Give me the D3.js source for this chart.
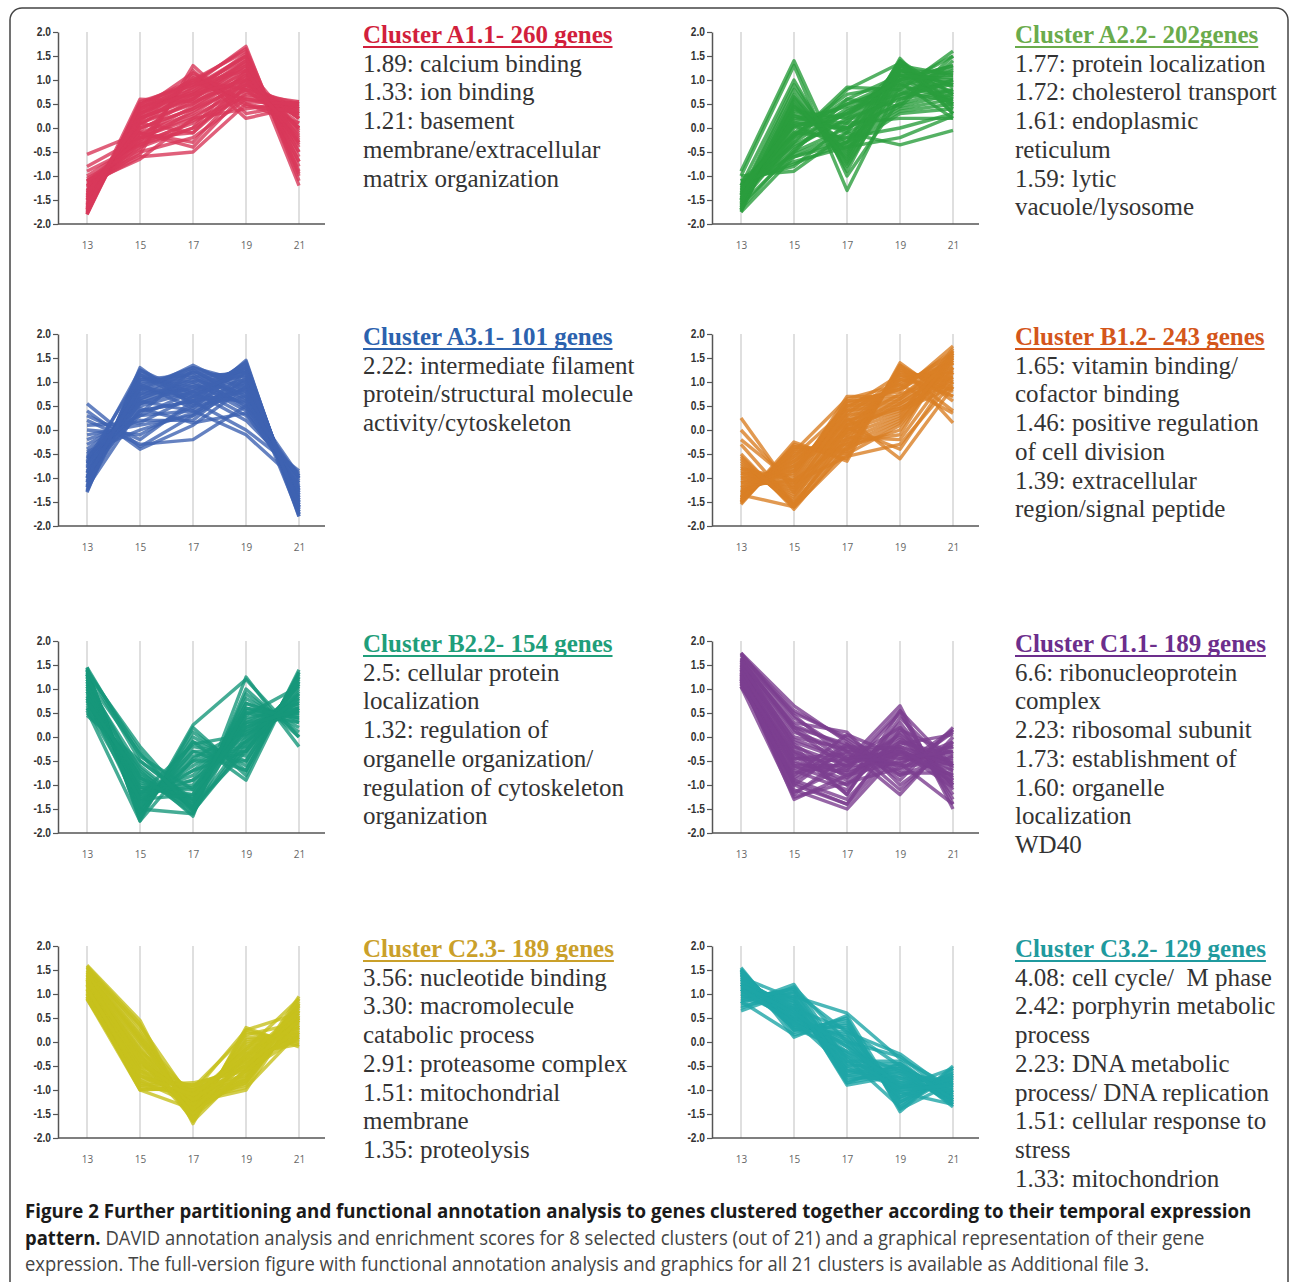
<!DOCTYPE html>
<html><head><meta charset="utf-8">
<script src="https://cdn.jsdelivr.net/npm/d3@7"></script>
<style>body{margin:0;background:#fff} svg{display:block}</style>
</head><body><svg id="c" width="1290" height="1282"></svg>
<script>
// ---------------- data ----------------
const days = [13, 15, 17, 19, 21];
const yTickValues = [2.0, 1.5, 1.0, 0.5, 0.0, -0.5, -1.0, -1.5, -2.0];

const titleA11 = "Cluster A1.1- 260 genes";
const titleA22 = "Cluster A2.2- 202genes";
const titleA31 = "Cluster A3.1- 101 genes";
const titleB12 = "Cluster B1.2- 243 genes";
const titleB22 = "Cluster B2.2- 154 genes";
const titleC11 = "Cluster C1.1- 189 genes";
const titleC23 = "Cluster C2.3- 189 genes";
const titleC32 = "Cluster C3.2- 129 genes";

const notesA11 = ["1.89: calcium binding", "1.33: ion binding", "1.21: basement", "membrane/extracellular", "matrix organization"];
const notesA22 = ["1.77: protein localization", "1.72: cholesterol transport", "1.61: endoplasmic", "reticulum", "1.59: lytic", "vacuole/lysosome"];
const notesA31 = ["2.22: intermediate filament", "protein/structural molecule", "activity/cytoskeleton"];
const notesB12 = ["1.65: vitamin binding/", "cofactor binding", "1.46: positive regulation", "of cell division", "1.39: extracellular", "region/signal peptide"];
const notesB22 = ["2.5: cellular protein", "localization", "1.32: regulation of", "organelle organization/", "regulation of cytoskeleton", "organization"];
const notesC11 = ["6.6: ribonucleoprotein", "complex", "2.23: ribosomal subunit", "1.73: establishment of", "1.60: organelle", "localization", "WD40"];
const notesC23 = ["3.56: nucleotide binding", "3.30: macromolecule", "catabolic process", "2.91: proteasome complex", "1.51: mitochondrial", "membrane", "1.35: proteolysis"];
const notesC32 = ["4.08: cell cycle/  M phase", "2.42: porphyrin metabolic", "process", "2.23: DNA metabolic", "process/ DNA replication", "1.51: cellular response to", "stress", "1.33: mitochondrion"];

// expression profiles (values at days 13,15,17,19,21)
const profilesA11 = [
 [-1.8,0.55,0.9,1.7,-1.1],[-1.75,0.5,1.0,1.6,-1.0],[-1.7,0.4,0.8,1.5,-0.8],[-1.65,0.3,0.7,1.4,-0.6],
 [-1.6,0.2,0.6,1.3,-0.4],[-1.55,0.1,0.5,1.2,-0.2],[-1.5,0.0,0.4,1.1,0.0],[-1.45,-0.1,0.3,1.0,0.2],
 [-1.4,-0.2,0.2,0.9,0.4],[-1.35,-0.3,0.1,0.8,0.5],[-1.3,-0.4,0.0,0.7,0.55],[-1.25,-0.5,-0.2,0.6,0.5],
 [-1.2,-0.6,-0.5,0.5,0.3],[-1.15,-0.65,0.2,0.4,0.55],[-1.1,-0.55,1.3,0.3,0.5],[-1.05,-0.45,1.2,0.2,0.45],
 [-1.0,-0.3,1.1,0.5,0.1],[-0.55,-0.1,-0.3,0.9,0.3],[-0.8,-0.2,-0.1,1.0,0.0],[-0.9,-0.35,0.0,1.2,-0.3],
 [-1.7,0.6,0.55,1.0,0.2],[-1.8,0.45,0.7,1.3,-0.5],[-1.6,0.25,0.95,0.6,0.4],[-1.5,0.15,1.0,0.8,0.0],
 [-1.4,0.05,0.85,1.5,-0.9],[-1.3,-0.05,0.6,1.4,-0.7],[-1.2,-0.15,0.45,1.1,-0.3],[-1.1,-0.25,0.35,0.95,0.2],
 [-1.75,0.35,0.75,1.55,-1.2],[-1.65,0.2,0.65,1.25,-0.05],[-1.45,0.1,-0.1,0.85,0.35],[-1.35,-0.1,-0.4,0.75,0.25],
 [-1.78,0.5,0.95,1.65,-0.95],[-1.72,0.42,0.85,1.45,-0.7],[-1.62,0.32,0.75,1.35,-0.5],[-1.52,0.22,0.62,1.15,-0.25],
 [-1.42,0.12,0.52,1.05,-0.1],[-1.32,0.0,0.4,0.9,0.1],[-1.22,-0.2,0.25,0.8,0.3],[-1.12,-0.35,0.15,0.65,0.45],
 [-1.58,0.38,1.15,0.55,0.5],[-1.48,0.28,1.05,0.45,0.35],[-1.68,0.48,0.9,1.2,-0.35],[-1.38,0.18,0.7,1.0,-0.15]
];
const profilesA22 = [
 [-1.75,0.5,-0.5,1.45,0.3],[-1.7,0.4,-0.3,1.4,0.5],[-1.65,0.3,-0.1,1.3,0.7],[-1.6,0.2,0.1,1.2,0.9],
 [-1.55,0.1,0.3,1.1,1.1],[-1.5,0.0,0.5,1.0,1.3],[-1.45,-0.1,0.7,0.9,1.5],[-1.4,-0.2,0.85,0.8,1.6],
 [-1.35,-0.3,0.4,0.7,1.2],[-1.3,-0.4,0.2,0.6,1.0],[-1.25,-0.5,0.0,0.5,0.8],[-1.2,-0.6,-0.2,0.4,0.6],
 [-1.15,-0.7,-0.4,0.3,0.4],[-1.1,-0.8,0.1,0.2,0.2],[-1.0,-0.9,-0.1,-0.35,-0.05],[-0.9,1.4,-1.0,0.6,0.8],
 [-1.0,1.3,-1.3,0.9,0.6],[-1.2,1.0,-0.9,1.2,0.9],[-1.4,0.8,-0.7,1.3,1.1],[-1.7,0.6,-0.6,1.4,0.7],
 [-1.5,0.7,-0.8,1.0,1.3],[-1.6,-0.5,0.6,1.1,0.5],[-1.45,-0.3,0.8,1.35,0.3],[-1.3,-0.1,-0.2,0.0,0.3],
 [-1.2,0.05,-0.4,-0.2,0.25],[-1.35,0.25,0.0,0.5,1.5],[-1.55,-0.2,0.3,0.8,0.9],[-1.65,0.35,0.2,1.25,0.4],
 [-1.75,-0.6,-0.3,0.7,1.0],[-1.25,0.15,0.45,0.95,0.2],[-1.1,-0.15,0.6,0.45,1.4],[-1.5,0.45,-0.45,1.15,0.65],
 [-1.72,0.45,-0.35,1.38,0.45],[-1.62,0.25,-0.05,1.22,0.75],[-1.52,0.05,0.25,1.05,1.05],[-1.42,-0.15,0.5,0.85,1.25],
 [-1.32,-0.35,0.15,0.65,0.95],[-1.22,-0.55,-0.1,0.45,0.7],[-1.12,-0.75,-0.3,0.35,0.5],[-1.58,0.65,-0.55,1.3,0.85],
 [-1.38,0.9,-0.75,1.1,1.0],[-1.48,0.55,-0.65,1.2,1.15],[-1.68,-0.45,0.35,1.0,0.6],[-1.28,0.1,0.0,0.75,0.55]
];
const profilesA31 = [
 [-1.3,1.3,0.5,1.45,-1.8],[-1.2,1.2,0.7,1.4,-1.7],[-1.1,1.1,0.9,1.3,-1.6],[-1.0,1.0,1.1,1.2,-1.5],
 [-0.9,0.9,1.3,1.0,-1.4],[-0.8,0.8,1.35,0.8,-1.3],[-0.7,0.7,1.2,0.6,-1.2],[-0.6,0.6,1.0,0.4,-1.0],
 [-0.5,0.5,0.8,0.2,-0.9],[-0.4,0.4,0.6,0.0,-0.85],[-0.3,0.3,0.4,-0.1,-1.1],[-0.2,0.2,0.2,1.1,-1.7],
 [-0.1,0.1,0.3,0.9,-1.6],[0.0,-0.1,0.5,0.7,-1.3],[0.2,-0.3,-0.2,0.5,-1.0],[0.4,-0.4,0.1,0.9,-1.5],
 [0.55,-0.35,0.3,1.2,-1.8],[0.3,-0.2,0.6,1.0,-1.4],[-1.25,0.95,0.45,1.35,-1.75],[-1.15,0.85,0.65,1.25,-1.65],
 [-1.05,0.75,0.85,1.15,-1.55],[-0.95,0.65,1.05,0.75,-1.25],[-0.85,0.55,0.95,0.55,-1.05],[-0.75,1.25,0.75,1.05,-1.45],
 [-0.65,1.15,0.55,0.85,-1.35],[-0.55,0.35,1.25,0.65,-0.95],[-0.45,0.0,0.35,0.95,-1.75],[-1.2,0.45,0.15,0.35,-1.15],
 [-1.0,1.05,1.15,0.45,-1.25],[0.1,0.15,0.7,1.3,-1.6],
 [-1.28,1.25,0.6,1.42,-1.75],[-1.18,1.15,0.8,1.35,-1.65],[-1.08,1.05,1.0,1.25,-1.55],[-0.98,0.95,1.2,1.1,-1.45],
 [-0.88,0.85,1.3,0.9,-1.35],[-0.78,0.75,1.25,0.7,-1.25],[-0.68,0.65,1.1,0.5,-1.1],[-0.58,0.55,0.9,0.3,-0.95],
 [-1.1,0.6,0.4,1.0,-1.5],[-0.9,0.4,0.6,0.8,-1.2],[-0.7,0.3,0.8,1.2,-1.6],[-1.0,0.9,0.7,0.6,-1.0]
];
const profilesB12 = [
 [-1.55,-0.3,-0.6,1.4,0.6],[-1.5,-0.4,-0.4,1.3,0.8],[-1.45,-0.5,-0.2,1.2,1.0],[-1.4,-0.6,0.0,1.1,1.2],
 [-1.35,-0.7,0.2,1.0,1.4],[-1.3,-0.8,0.4,0.9,1.6],[-1.25,-0.9,0.6,0.8,1.75],[-1.2,-1.0,0.7,0.7,1.5],
 [-1.1,-1.1,0.5,0.6,1.3],[-1.0,-1.2,0.3,0.5,1.1],[-0.9,-1.3,0.1,0.4,0.9],[-0.8,-1.4,-0.1,0.3,1.7],
 [-0.7,-1.5,-0.3,0.2,1.5],[-0.6,-1.6,-0.5,0.1,1.4],[-0.5,-1.65,-0.35,0.0,1.6],[-0.3,-1.55,-0.15,-0.2,1.3],
 [0.25,-1.3,0.05,-0.4,1.2],[0.0,-1.2,0.25,-0.6,0.9],[-0.2,-1.1,-0.55,-0.3,1.0],[-1.5,-0.25,-0.65,1.35,0.15],
 [-1.45,-0.35,-0.45,1.25,0.4],[-1.4,-0.45,0.65,0.95,0.35],[-1.3,-0.55,0.45,1.15,0.7],[-1.2,-0.65,0.15,0.75,1.1],
 [-1.1,-0.75,-0.05,0.55,1.25],[-1.0,-0.85,0.35,1.05,0.85],[-0.9,-0.95,0.55,0.85,1.45],[-0.8,-1.05,-0.25,-0.1,1.65],
 [-0.75,-1.45,0.1,0.45,1.05],[-1.35,-1.6,0.0,0.65,1.55],
 [-1.52,-0.35,-0.5,1.35,0.7],[-1.48,-0.45,-0.3,1.25,0.9],[-1.42,-0.55,-0.1,1.15,1.1],[-1.38,-0.65,0.1,1.05,1.3],
 [-1.32,-0.75,0.3,0.95,1.5],[-1.28,-0.85,0.5,0.85,1.65],[-1.15,-1.05,0.6,0.65,1.4],[-1.05,-1.15,0.4,0.55,1.2],
 [-0.95,-1.25,0.2,0.45,1.0],[-0.85,-1.35,0.0,0.35,1.6],[-0.65,-1.55,-0.2,0.25,1.45],[-0.55,-1.6,-0.4,0.15,1.55]
];
const profilesB22 = [
 [1.45,-1.75,0.2,-0.8,1.4],[1.4,-1.6,0.0,-0.6,1.3],[1.35,-1.5,-0.2,-0.4,1.2],[1.3,-1.4,-0.4,-0.2,1.1],
 [1.2,-1.3,-0.6,0.0,1.0],[1.1,-1.2,-0.8,0.2,0.8],[1.0,-1.1,-1.0,0.4,0.6],[0.9,-1.0,-1.2,0.6,0.4],
 [0.8,-0.9,-1.4,0.8,0.2],[0.7,-0.8,-1.6,1.0,0.0],[0.6,-0.7,-1.65,1.25,-0.2],[0.5,-0.6,-1.5,0.9,0.1],
 [0.45,-0.5,-1.3,0.5,0.3],[1.45,-0.4,-1.1,0.3,0.5],[1.4,-0.3,-1.55,-0.1,0.9],[1.35,-0.2,-1.45,-0.3,1.1],
 [1.3,-1.7,0.25,1.2,0.0],[1.25,-1.65,-0.1,-0.9,1.35],[1.15,-1.55,-0.3,-0.7,1.25],[1.05,-1.45,-0.5,-0.5,1.15],
 [0.95,-1.35,-0.7,-0.3,0.95],[0.85,-1.25,-0.9,-0.1,0.75],[0.75,-1.15,-1.05,0.1,0.55],[0.65,-1.05,-1.25,0.35,0.7],
 [1.2,-0.85,-1.35,0.55,0.45],[1.0,-0.75,-1.45,0.7,0.35],[1.1,-0.65,-1.55,-0.2,0.85],[0.55,-1.75,-0.45,0.15,0.65],
 [1.3,-1.2,-0.15,0.05,0.6],[0.8,-1.5,-1.6,0.45,1.05],
 [1.42,-1.68,0.1,-0.7,1.35],[1.38,-1.55,-0.1,-0.5,1.25],[1.32,-1.45,-0.3,-0.3,1.15],[1.25,-1.35,-0.5,-0.1,1.05],
 [1.15,-1.25,-0.7,0.1,0.9],[1.05,-1.15,-0.9,0.3,0.7],[0.95,-1.05,-1.1,0.5,0.5],[0.85,-0.95,-1.3,0.7,0.3],
 [0.75,-0.85,-1.5,0.6,0.4],[1.4,-0.5,-1.35,0.2,0.6],[1.2,-0.35,-1.5,0.0,0.8],[0.6,-1.3,-1.2,0.25,0.55]
];
const profilesC11 = [
 [1.75,0.65,-0.1,-0.9,0.2],[1.7,0.5,0.0,-0.7,0.1],[1.65,0.3,0.1,-1.0,-0.2],[1.6,0.1,-0.3,-1.2,0.0],
 [1.55,-0.1,-0.5,0.65,-1.5],[1.5,-0.3,-0.7,0.5,-1.3],[1.45,-0.5,-0.9,0.3,-1.1],[1.4,-0.7,-1.1,0.1,-0.9],
 [1.35,-0.9,-1.3,-0.1,-0.7],[1.3,-1.1,-1.5,-0.3,-0.5],[1.25,-1.3,-0.8,-0.5,-0.3],[1.2,-1.2,-0.4,-0.6,0.15],
 [1.15,-1.0,-0.2,-0.8,-0.4],[1.1,-0.8,0.05,-0.4,-0.8],[1.05,-0.6,-0.6,0.0,-1.0],[1.75,0.4,-0.3,-0.2,-0.6],
 [1.6,0.2,-0.5,0.2,-1.2],[1.5,0.0,-0.25,-0.45,-0.2],[1.4,-0.2,-1.2,0.4,-0.65],[1.3,-0.4,-1.0,-0.15,0.05],
 [1.2,-0.55,-0.75,-0.35,-0.45],[1.1,-0.75,-0.55,-0.25,-0.95],[1.15,-0.95,-1.4,0.15,-0.35],[1.25,-0.85,-0.15,-0.75,-0.75],
 [1.35,-0.45,-0.35,-0.55,-1.4],[1.45,-0.15,-0.85,-0.05,-0.55],[1.55,0.15,-0.65,0.05,-0.85],[1.65,0.45,-0.45,-0.3,-1.05],
 [1.05,-1.25,-0.95,-0.65,-0.15],[1.2,-0.3,-1.2,0.55,-0.6],
 [1.72,0.55,-0.05,-0.8,0.15],[1.62,0.2,-0.15,-1.1,-0.1],[1.52,-0.2,-0.6,0.55,-1.4],[1.42,-0.6,-1.0,0.2,-1.0],
 [1.32,-1.0,-1.4,-0.2,-0.6],[1.22,-1.15,-0.6,-0.55,-0.1],[1.12,-0.9,-0.3,-0.6,-0.55],[1.48,-0.05,-0.45,-0.35,-0.7],
 [1.38,-0.35,-0.8,-0.1,-0.4],[1.28,-0.65,-0.7,-0.3,-0.8],[1.18,-0.45,-0.5,-0.45,-0.3],[1.58,0.25,-0.2,-0.25,-0.9]
];
const profilesC23 = [
 [1.6,0.45,-1.7,0.3,-0.1],[1.55,0.3,-1.6,0.2,0.0],[1.5,0.15,-1.5,0.1,0.1],[1.45,0.0,-1.4,0.0,0.2],
 [1.4,-0.15,-1.3,-0.1,0.3],[1.35,-0.3,-1.2,-0.2,0.4],[1.3,-0.45,-1.1,-0.3,0.5],[1.25,-0.6,-1.0,-0.4,0.6],
 [1.2,-0.75,-0.9,-0.5,0.7],[1.1,-0.9,-0.85,-0.6,0.8],[1.0,-1.0,-0.95,-0.7,0.95],[0.95,-0.95,-1.05,-0.8,0.85],
 [0.9,-0.85,-1.15,-0.9,0.75],[0.95,-0.7,-1.25,-1.0,0.65],[1.05,-0.55,-1.35,-0.85,0.55],[1.15,-0.4,-1.45,-0.75,0.45],
 [1.25,-0.25,-1.55,-0.65,0.35],[1.35,-0.1,-1.65,-0.55,0.25],[1.45,0.05,-1.45,-0.45,0.15],[1.55,0.2,-1.35,-0.35,0.05],
 [1.5,0.35,-1.25,-0.25,-0.05],[1.4,0.1,-1.15,-0.15,0.9],[1.3,-0.2,-1.05,0.25,0.6],[1.2,-0.5,-0.95,0.15,0.4],
 [1.1,-0.8,-1.3,-0.05,0.3],[1.0,-0.65,-1.2,-0.95,0.2],[0.9,-1.0,-1.4,-0.6,0.1],[1.3,-0.35,-1.6,-0.25,0.5],
 [1.58,0.38,-1.65,0.25,-0.05],[1.48,0.08,-1.45,0.05,0.15],[1.38,-0.22,-1.25,-0.15,0.35],[1.28,-0.52,-1.05,-0.35,0.55],
 [1.18,-0.82,-0.9,-0.55,0.75],[1.02,-0.98,-1.0,-0.75,0.9],[0.92,-0.9,-1.1,-0.85,0.8],[1.08,-0.6,-1.3,-0.8,0.5],
 [1.22,-0.3,-1.5,-0.6,0.3],[1.42,0.0,-1.4,-0.4,0.1],[1.32,-0.4,-1.2,-0.5,0.45],[1.12,-0.7,-1.1,-0.3,0.65]
];
const profilesC32 = [
 [1.55,0.2,0.5,-1.45,-0.5],[1.5,0.3,0.3,-1.3,-0.6],[1.45,0.4,0.1,-1.2,-0.7],[1.4,0.5,-0.1,-1.1,-0.8],
 [1.35,0.6,-0.3,-1.0,-0.9],[1.3,0.7,-0.5,-0.9,-1.0],[1.2,0.8,-0.7,-0.8,-1.1],[1.1,0.9,-0.9,-0.7,-1.2],
 [1.0,1.0,-0.8,-0.6,-1.3],[0.9,1.1,-0.6,-0.5,-1.35],[0.8,1.2,-0.4,-0.4,-1.25],[0.7,1.15,0.0,-0.3,-1.15],
 [0.65,1.05,0.2,-0.25,-1.05],[0.75,0.95,0.6,-0.35,-0.95],[0.85,0.15,0.4,-1.4,-0.85],[1.5,0.1,0.55,-1.25,-0.75],
 [1.45,0.25,0.35,-1.15,-0.65],[1.4,0.35,0.15,-0.95,-0.55],[1.3,0.45,-0.05,-0.85,-0.75],[1.25,0.55,-0.25,-0.75,-0.85],
 [1.15,0.65,-0.45,-0.65,-1.0],[1.05,0.75,-0.65,-0.55,-1.1],[0.95,0.85,-0.85,-0.45,-1.2],[1.0,0.5,0.05,-1.05,-1.3],
 [1.2,0.3,-0.2,-0.6,-0.9],[1.35,0.9,-0.35,-1.35,-0.7],[0.9,0.7,0.25,-0.5,-1.05],[1.1,0.45,-0.55,-0.95,-0.8],
 [1.52,0.25,0.45,-1.38,-0.55],[1.48,0.35,0.2,-1.25,-0.65],[1.42,0.45,0.0,-1.15,-0.75],[1.38,0.55,-0.2,-1.05,-0.85],
 [1.32,0.65,-0.4,-0.95,-0.95],[1.25,0.75,-0.6,-0.85,-1.05],[1.15,0.85,-0.75,-0.75,-1.15],[1.05,0.95,-0.85,-0.65,-1.25],
 [0.95,1.05,-0.7,-0.55,-1.3],[0.85,1.12,-0.5,-0.45,-1.2],[1.2,0.6,-0.1,-0.9,-1.0],[1.1,0.4,-0.3,-1.0,-0.9]
];

const captionBold1 = "Figure 2 Further partitioning and functional annotation analysis to genes clustered together according to their temporal expression";
const captionBold2 = "pattern.";
const captionText2 = " DAVID annotation analysis and enrichment scores for 8 selected clusters (out of 21) and a graphical representation of their gene";
const captionText3 = "expression. The full-version figure with functional annotation analysis and graphics for all 21 clusters is available as Additional file 3.";

// ---------------- layout / style ----------------
const colAxisX = [58, 712];
const colTextX = [363, 1015];
const rowTop = [32, 334, 641, 946];
const plotH = 192;

const panels = [
  {title: titleA11, notes: notesA11, data: profilesA11, line: "#d8385a", tcol: "#d21f3c", col: 0, row: 0},
  {title: titleA22, notes: notesA22, data: profilesA22, line: "#2b9d3d", tcol: "#6aab4c", col: 1, row: 0},
  {title: titleA31, notes: notesA31, data: profilesA31, line: "#3e63b2", tcol: "#2c62ae", col: 0, row: 1},
  {title: titleB12, notes: notesB12, data: profilesB12, line: "#d98026", tcol: "#d4561b", col: 1, row: 1},
  {title: titleB22, notes: notesB22, data: profilesB22, line: "#16977b", tcol: "#1f9e7a", col: 0, row: 2},
  {title: titleC11, notes: notesC11, data: profilesC11, line: "#7c3f90", tcol: "#6c2e8c", col: 1, row: 2},
  {title: titleC23, notes: notesC23, data: profilesC23, line: "#c7c11d", tcol: "#caa02a", col: 0, row: 3},
  {title: titleC32, notes: notesC32, data: profilesC32, line: "#1ea5a6", tcol: "#1f9a9e", col: 1, row: 3}
];

const svg = d3.select("#c");

// frame
svg.append("rect").attr("x", 10).attr("y", 8).attr("width", 1278).attr("height", 1300)
  .attr("rx", 12).attr("fill", "none").attr("stroke", "#444").attr("stroke-width", 1.5);

panels.forEach(p => {
  const ax = colAxisX[p.col];
  const top = rowTop[p.row];
  const bottom = top + plotH;
  const x = d3.scaleLinear().domain([13, 21]).range([ax + 29, ax + 241]);
  const y = d3.scaleLinear().domain([-2, 2]).range([bottom, top]);
  const g = svg.append("g");

  // vertical grid lines
  g.selectAll("line.grid").data(days).join("line").attr("class", "grid")
    .attr("x1", d => x(d)).attr("x2", d => x(d)).attr("y1", y(2)).attr("y2", y(-2))
    .attr("stroke", "#d4d4d4").attr("stroke-width", 1.5);

  // profiles
  const lineGen = d3.line().x((d, i) => x(days[i])).y(d => y(d));
  g.selectAll("path.prof").data(p.data).join("path").attr("class", "prof")
    .attr("d", lineGen).attr("fill", "none").attr("stroke", p.line)
    .attr("stroke-width", 3.4).attr("stroke-opacity", 0.8).attr("stroke-linejoin", "round");

  // y axis
  const yAxis = d3.axisLeft(y).tickValues(yTickValues).tickFormat(d => d.toFixed(1))
    .tickSize(5).tickSizeOuter(0).tickPadding(2);
  const ya = g.append("g").attr("transform", `translate(${ax},0)`).call(yAxis);
  ya.select(".domain").attr("stroke", "#555").attr("stroke-width", 1.5);
  ya.selectAll(".tick line").attr("stroke", "#555").attr("stroke-width", 1.2);
  ya.selectAll(".tick text").attr("font-family", "Liberation Sans, Arial, sans-serif")
    .attr("font-weight", "bold").attr("font-size", 12).attr("fill", "#333")
    .attr("transform", "scale(0.85,1)").attr("x", -7 / 0.85);

  // x baseline
  g.append("line").attr("x1", ax).attr("x2", ax + 267).attr("y1", bottom).attr("y2", bottom)
    .attr("stroke", "#555").attr("stroke-width", 1.5);

  // x tick labels
  const xAxis = d3.axisBottom(x).tickValues(days).tickSize(0).tickPadding(18);
  const xa = g.append("g").attr("transform", `translate(0,${bottom})`).call(xAxis);
  xa.select(".domain").remove();
  xa.selectAll(".tick text").attr("font-family", "Open Sans, sans-serif")
    .attr("font-size", 10).attr("fill", "#666");

  // title + notes
  const tx = colTextX[p.col];
  const base = top + 11;
  const t = g.append("text").attr("x", tx).attr("y", base)
    .attr("font-family", "Liberation Serif, Times New Roman, serif").attr("font-weight", "bold")
    .attr("font-size", 25).attr("fill", p.tcol).text(p.title);
  const tw = t.node().getComputedTextLength();
  g.append("line").attr("x1", tx).attr("x2", tx + tw).attr("y1", base + 4).attr("y2", base + 4)
    .attr("stroke", p.tcol).attr("stroke-width", 2);
  g.selectAll("text.note").data(p.notes).join("text").attr("class", "note")
    .attr("x", tx).attr("y", (d, i) => base + 28.7 * (i + 1))
    .attr("font-family", "Liberation Serif, Times New Roman, serif")
    .attr("font-size", 25).attr("fill", "#333").attr("xml:space", "preserve")
    .style("white-space", "pre").text(d => d);
});

// caption
function fitText(sel, targetW) {
  const w = sel.node().getComputedTextLength();
  const xx = +sel.attr("x"), yy = +sel.attr("y");
  sel.attr("x", 0).attr("y", 0).attr("transform", `translate(${xx},${yy}) scale(${targetW / w},1)`);
}
const capFont = "Open Sans, sans-serif";
const c1 = svg.append("text").attr("x", 25).attr("y", 1218).attr("font-family", capFont)
  .attr("font-size", 20).attr("font-weight", "bold").attr("fill", "#1a1a1a").text(captionBold1);
fitText(c1, 1227);
const c2 = svg.append("text").attr("x", 25).attr("y", 1245).attr("font-family", capFont)
  .attr("font-size", 20).attr("fill", "#444");
c2.append("tspan").attr("font-weight", "bold").attr("fill", "#1a1a1a").text(captionBold2);
c2.append("tspan").text(captionText2);
fitText(c2, 1180);
const c3 = svg.append("text").attr("x", 25).attr("y", 1271).attr("font-family", capFont)
  .attr("font-size", 20).attr("fill", "#444").text(captionText3);
fitText(c3, 1125);
</script></body></html>
